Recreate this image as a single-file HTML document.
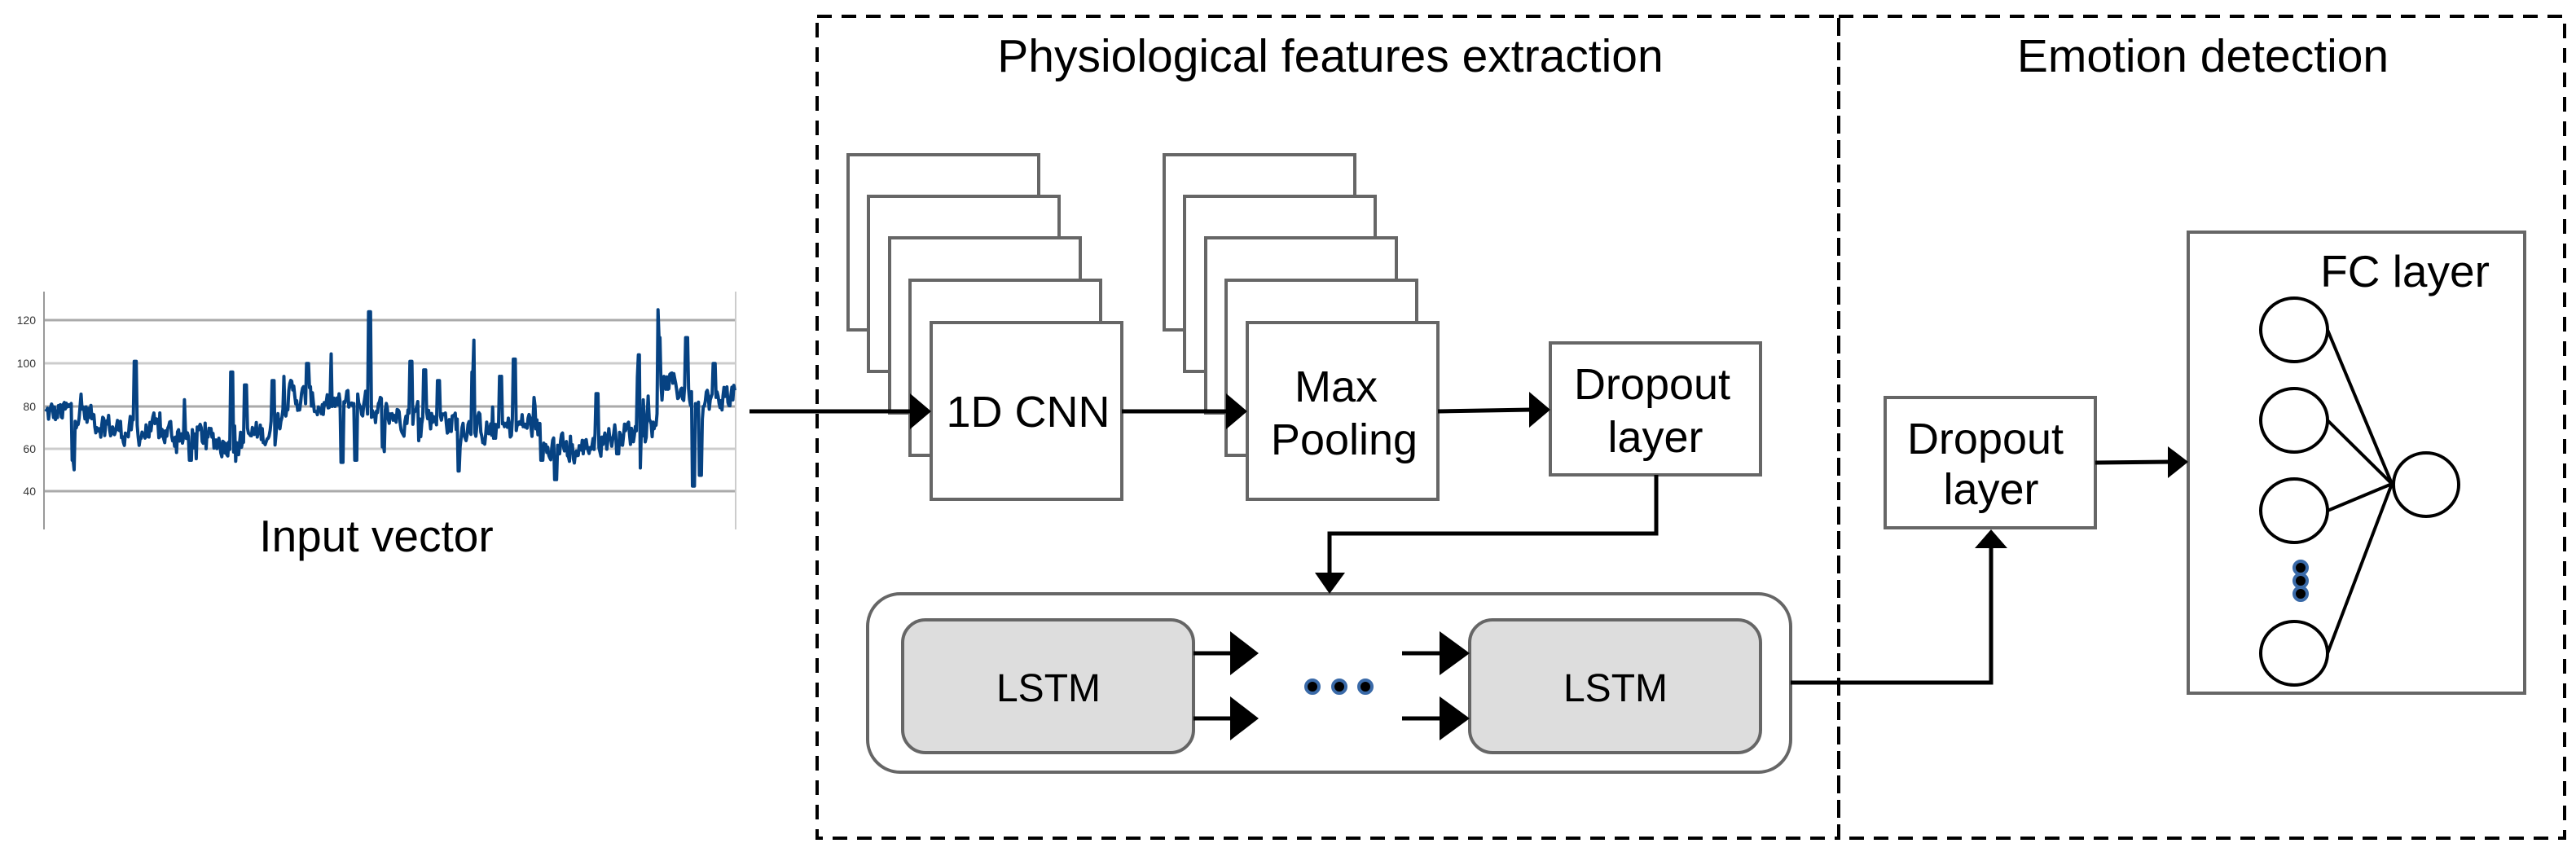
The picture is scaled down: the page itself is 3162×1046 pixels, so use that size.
<!DOCTYPE html>
<html><head><meta charset="utf-8"><style>
html,body{margin:0;padding:0;background:#fff;}
svg{display:block;}
text{font-family:"Liberation Sans",sans-serif;fill:#000;}
</style></head><body>
<svg id="s" width="3162" height="1046" viewBox="0 0 3162 1046" xmlns="http://www.w3.org/2000/svg">
<!-- chart -->
<g stroke="#aaa" stroke-width="3">
<line x1="54" y1="393" x2="903" y2="393"/>
<line x1="54" y1="446" x2="903" y2="446" stroke="#ccc"/>
<line x1="54" y1="499" x2="903" y2="499"/>
<line x1="54" y1="551" x2="903" y2="551" stroke="#ccc"/>
<line x1="54" y1="603" x2="903" y2="603"/>
</g>
<line x1="54" y1="358" x2="54" y2="650" stroke="#999" stroke-width="2"/>
<line x1="903" y1="358" x2="903" y2="650" stroke="#ccc" stroke-width="2"/>
<g font-size="14" text-anchor="end">
<text x="44" y="398" style="fill:#333">120</text>
<text x="44" y="451" style="fill:#333">100</text>
<text x="44" y="504" style="fill:#333">80</text>
<text x="44" y="556" style="fill:#333">60</text>
<text x="44" y="608" style="fill:#333">40</text>
</g>
<path id="sig" fill="none" stroke="#064282" stroke-width="4" stroke-linejoin="round"/>
<text x="462" y="677" font-size="55" text-anchor="middle">Input vector</text>

<!-- dashed boxes -->
<g fill="none" stroke="#000" stroke-width="4" stroke-dasharray="18,12">
<rect x="1003" y="20" width="1254" height="1009"/>
<rect x="2257" y="20" width="891" height="1009"/>
</g>
<text x="1633" y="88" font-size="57" text-anchor="middle">Physiological features extraction</text>
<text x="2704" y="88" font-size="57" text-anchor="middle">Emotion detection</text>

<g fill="#fff" stroke="#666" stroke-width="4">
<rect x="1041" y="190" width="234" height="215"/>
<rect x="1066" y="241" width="234" height="215"/>
<rect x="1092" y="292" width="234" height="215"/>
<rect x="1117" y="344" width="234" height="215"/>
<rect x="1143" y="396" width="234" height="217"/>
<rect x="1429" y="190" width="234" height="215"/>
<rect x="1454" y="241" width="234" height="215"/>
<rect x="1480" y="292" width="234" height="215"/>
<rect x="1505" y="344" width="234" height="215"/>
<rect x="1531" y="396" width="234" height="217"/>
<rect x="1903" y="421" width="258" height="162"/>
<rect x="2314" y="488" width="258" height="160"/>
<rect x="2686" y="285" width="413" height="566"/>
<rect x="1065" y="729" width="1133" height="219" rx="40"/>
<rect x="1108" y="761" width="357" height="163" rx="28" fill="#ddd"/>
<rect x="1804" y="761" width="357" height="163" rx="28" fill="#ddd"/>
</g>
<text x="1262" y="524" font-size="54" text-anchor="middle">1D CNN</text>
<text x="1640" y="493" font-size="54" text-anchor="middle">Max</text>
<text x="1650" y="558" font-size="54" text-anchor="middle">Pooling</text>
<text x="2028" y="490" font-size="54" text-anchor="middle">Dropout</text>
<text x="2032" y="555" font-size="54" text-anchor="middle">layer</text>
<text x="2437" y="557" font-size="54" text-anchor="middle">Dropout</text>
<text x="2444" y="619" font-size="54" text-anchor="middle">layer</text>
<text x="2952" y="352" font-size="55" text-anchor="middle">FC layer</text>
<text x="1287" y="861" font-size="48" text-anchor="middle">LSTM</text>
<text x="1983" y="861" font-size="48" text-anchor="middle">LSTM</text>

<g stroke="#000" stroke-width="5" fill="none">
<line x1="920" y1="505" x2="1120" y2="505"/>
<line x1="1377" y1="505" x2="1508" y2="505"/>
<line x1="1765" y1="505" x2="1880" y2="503"/>
<polyline points="2033,583 2033,655 1632,655 1632,706"/>
<polyline points="2198,838 2444,838 2444,672"/>
<line x1="2572" y1="568" x2="2664" y2="567"/>
<line x1="1465" y1="802" x2="1512" y2="802"/>
<line x1="1465" y1="882" x2="1512" y2="882"/>
<line x1="1721" y1="802" x2="1770" y2="802"/>
<line x1="1721" y1="882" x2="1770" y2="882"/>
</g>
<g fill="#000">
<polygon points="1117,483 1143,505 1117,527"/>
<polygon points="1505,483 1531,505 1505,527"/>
<polygon points="1877,481 1903,503 1877,525"/>
<polygon points="1614,703 1651,703 1632,729"/>
<polygon points="2424,673 2464,673 2444,650"/>
<polygon points="2661,548 2686,567 2661,587"/>
<polygon points="1510,775 1545,802 1510,829"/>
<polygon points="1510,855 1545,882 1510,909"/>
<polygon points="1767,775 1804,802 1767,829"/>
<polygon points="1767,855 1804,882 1767,909"/>
</g>
<g fill="#000" stroke="#3a6aa8" stroke-width="4">
<circle cx="1611" cy="843" r="8"/>
<circle cx="1644" cy="843" r="8"/>
<circle cx="1676" cy="843" r="8"/>
<circle cx="2824" cy="697" r="8"/>
<circle cx="2824" cy="713" r="8"/>
<circle cx="2824" cy="729" r="8"/>
</g>
<g stroke="#000" stroke-width="4" fill="none">
<line x1="2857" y1="405" x2="2936" y2="594"/>
<line x1="2857" y1="516" x2="2936" y2="594"/>
<line x1="2857" y1="627" x2="2936" y2="594"/>
<line x1="2857" y1="802" x2="2936" y2="594"/>
</g>
<g stroke="#000" stroke-width="4" fill="#fff">
<ellipse cx="2816" cy="405" rx="41" ry="39"/>
<ellipse cx="2816" cy="516" rx="41" ry="39"/>
<ellipse cx="2816" cy="627" rx="41" ry="39"/>
<ellipse cx="2816" cy="802" rx="41" ry="39"/>
<ellipse cx="2978" cy="595" rx="40" ry="39"/>
</g>
</svg>
<script>
(function(){
var seed=12345;function r(){seed=(seed*1103515245+12345)%2147483648;return seed/2147483648;}
function vy(v){return 499-(v-80)*2.64;}
var base=[[0,76],[0.05,78],[0.1,69],[0.2,67],[0.28,62],[0.3,67],[0.33,68],[0.35,86],[0.4,80],[0.45,82],[0.5,76],[0.55,76],[0.6,72],[0.65,68],[0.7,72],[0.76,57],[0.8,65],[0.85,68],[0.88,72],[0.9,92],[0.95,82],[1,86]];
function b(t){for(var i=1;i<base.length;i++){if(t<=base[i][0]){var a=base[i-1],c=base[i];return a[1]+(c[1]-a[1])*(t-a[0])/(c[0]-a[0]);}}return 85;}
var spikes={0.13:101,0.27:96,0.29:90,0.38:100,0.43:54,0.47:124,0.49:59,0.53:101,0.55:97,0.6:50,0.62:96,0.68:102,0.74:46,0.86:104,0.89:112,0.93:112,0.95:48,0.97:100,0.94:43,0.04:55,0.21:55,0.33:92,0.45:55,0.57:92,0.66:94,0.72:55,0.8:86,0.83:58};
var n=700,d="",x0=56,x1=902,v=76;
for(var i=0;i<=n;i++){var t=i/n;v=0.5*v+0.5*(b(t)+(r()-0.5)*22);
var w=v;
for(var k in spikes){if(Math.abs(t-parseFloat(k))<0.0015){w=spikes[k];}}
if(r()<0.05)w+=(r()-0.4)*30;
w=Math.max(43,Math.min(125,w));
d+=(i?"L":"M")+(x0+(x1-x0)*t).toFixed(1)+","+vy(w).toFixed(1);}
document.getElementById("sig").setAttribute("d",d);
})();
</script>
</body></html>
